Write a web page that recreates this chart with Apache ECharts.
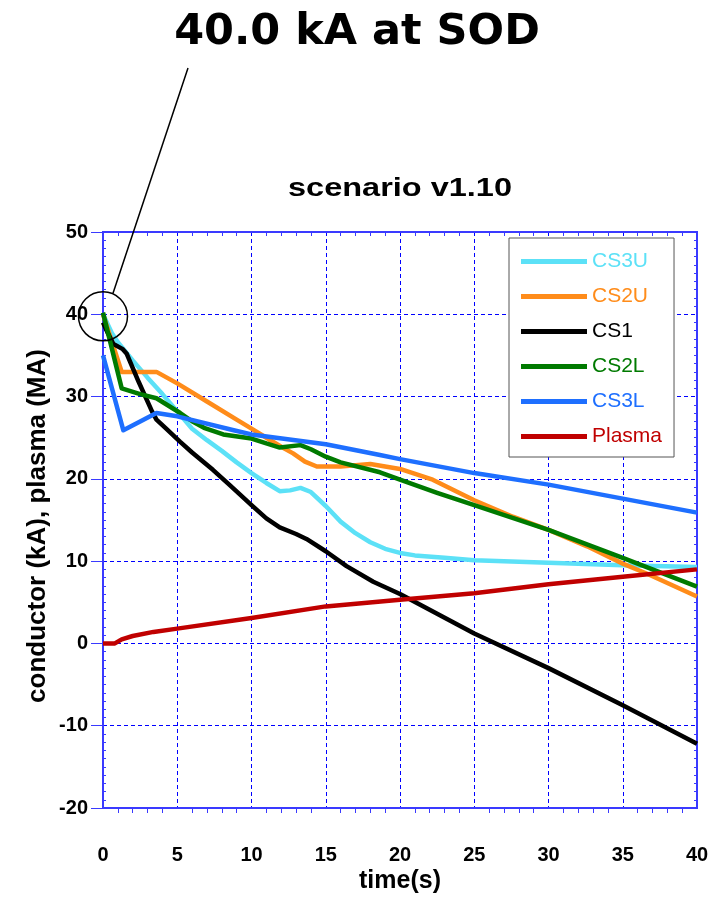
<!DOCTYPE html>
<html><head><meta charset="utf-8">
<script src="https://cdn.jsdelivr.net/npm/echarts@6/dist/echarts.min.js"></script>
<style>html,body{margin:0;padding:0;background:#fff}#c{width:714px;height:923px}</style>
</head><body><div id="c"></div>
<script>
// ---- data (time s, value) ----
const seriesNames = ['CS3U', 'CS2U', 'CS1', 'CS2L', 'CS3L', 'Plasma'];
const seriesColors = ['#5ce1f7', '#ff8c1a', '#000000', '#007a00', '#1e6fff', '#c00000'];
const cs3u = [[0,40],[0.6,37.7],[1,36.6],[2,34.4],[3,32.3],[4,30.3],[5,28.2],[6,26.1],[7,24.7],[8,23.4],[9,22.0],[10,20.7],[11,19.5],[11.9,18.5],[12.6,18.6],[13.3,18.9],[14,18.4],[15,16.7],[16,14.8],[17,13.4],[18,12.3],[19,11.5],[20,11.0],[21,10.7],[23,10.4],[25,10.1],[30,9.8],[35,9.5],[40,9.3]];
const cs2u = [[0,40],[1.26,33.0],[3.6,33.0],[5,31.6],[7,29.4],[9,27.2],[10,26.1],[11,25.0],[12,23.9],[12.8,23.1],[13.6,22.1],[14.4,21.5],[16,21.5],[18,21.8],[20,21.2],[22.2,19.9],[25,17.4],[27.6,15.4],[30,13.8],[32.6,11.8],[35,9.7],[36.6,8.5],[40,5.7]];
const cs1 = [[0,39],[0.3,37.8],[0.7,36.4],[1.3,35.8],[1.6,35.2],[2.4,31.8],[3.3,28.2],[3.6,27.2],[4.2,26.2],[5.2,24.5],[6,23.2],[7.4,21.1],[8.5,19.3],[10,16.8],[11,15.2],[11.9,14.1],[13,13.3],[13.7,12.7],[15,11.2],[16.4,9.4],[18.2,7.5],[20,6.0],[25,1.2],[30,-3.0],[35,-7.5],[40,-12.2]];
const cs2l = [[0,40.2],[1.26,31.0],[2.5,30.3],[3.6,29.8],[5.2,28.0],[6,27.0],[6.8,26.2],[8.1,25.4],[10,24.9],[11,24.3],[11.9,23.8],[13.3,24.1],[14,23.6],[15,22.7],[16,22.0],[18.65,20.8],[20,19.9],[22.5,18.3],[25,16.8],[30,13.8],[35,10.4],[40,6.9]];
const cs3l = [[0,35],[1.37,25.9],[3.6,28.0],[5,27.6],[8.8,25.9],[10,25.4],[15,24.2],[18.65,22.9],[20,22.4],[25,20.7],[30,19.3],[35,17.6],[40,15.9]];
const plasma = [[0,0],[0.8,0],[1.26,0.5],[2,0.9],[3.4,1.4],[5,1.8],[10,3.1],[15,4.5],[20,5.3],[25,6.1],[30,7.2],[35,8.1],[40,9.0]];
const seriesData = [cs3u, cs2u, cs1, cs2l, cs3l, plasma];

const xMin = 0, xMax = 40, xStep = 5;
const yMin = -20, yMax = 50, yStep = 10;

const FONT = '"Liberation Sans", Arial, sans-serif';
const AXIS_BLUE = '#3a3aff';
const GRID_BLUE = '#0000ff';

const chart = echarts.init(document.getElementById('c'));
const grid = {left: 103, right: 17, top: 232, bottom: 115, show: true, borderColor: AXIS_BLUE, borderWidth: 2, backgroundColor: '#fff'};
const dashed = {show: true, lineStyle: {color: GRID_BLUE, width: 1, type: [4, 3]}};
const tickLabel = {color: '#000', fontFamily: FONT, fontWeight: 'bold', fontSize: 20};

const option = {
  animation: false,
  backgroundColor: '#fff',
  grid: grid,
  legend: {
    orient: 'vertical', left: 509, top: 238,
    padding: [13, 12, 10, 12], itemGap: 14,
    itemWidth: 66, itemHeight: 5, icon: 'rect',
    backgroundColor: '#fff', borderColor: '#555', borderWidth: 1,
    textStyle: {fontFamily: FONT, fontSize: 21, lineHeight: 21},
    data: seriesNames.map((n, i) => ({name: n, textStyle: {color: seriesColors[i]}}))
  },
  xAxis: [
    {type: 'value', min: xMin, max: xMax, interval: xStep, position: 'bottom',
     axisLine: {show: true, onZero: false, lineStyle: {color: AXIS_BLUE, width: 2}},
     axisTick: {show: false}, minorTick: {show: true, splitNumber: 5, length: 5, lineStyle: {color: AXIS_BLUE}},
     splitLine: dashed, axisLabel: Object.assign({margin: 37}, tickLabel)},
    {type: 'value', min: xMin, max: xMax, interval: xStep, position: 'top',
     axisLine: {show: true, onZero: false, lineStyle: {color: AXIS_BLUE, width: 2}},
     axisTick: {show: false, inside: true}, minorTick: {show: true, splitNumber: 5, length: 4, lineStyle: {color: AXIS_BLUE}},
     splitLine: {show: false}, axisLabel: {show: false}}
  ],
  yAxis: [
    {type: 'value', min: yMin, max: yMax, interval: yStep, position: 'left',
     axisLine: {show: true, onZero: false, lineStyle: {color: AXIS_BLUE, width: 2}},
     axisTick: {show: true, length: 12, lineStyle: {color: AXIS_BLUE, width: 1}},
     splitLine: dashed, axisLabel: Object.assign({margin: 15}, tickLabel)},
    {type: 'value', min: yMin, max: yMax, interval: yStep, position: 'left',
     axisLine: {show: false}, axisTick: {show: false, inside: true},
     minorTick: {show: true, splitNumber: 10, length: 3, lineStyle: {color: AXIS_BLUE}},
     splitLine: {show: false}, axisLabel: {show: false}},
    {type: 'value', min: yMin, max: yMax, interval: yStep, position: 'right',
     axisLine: {show: true, onZero: false, lineStyle: {color: AXIS_BLUE, width: 2}},
     axisTick: {show: false, inside: true},
     minorTick: {show: true, splitNumber: 10, length: 3, lineStyle: {color: AXIS_BLUE}},
     splitLine: {show: false}, axisLabel: {show: false}}
  ],
  series: seriesNames.map((n, i) => ({
    name: n, type: 'line', data: seriesData[i], xAxisIndex: 0, yAxisIndex: 0,
    showSymbol: false, symbol: 'none', smooth: false,
    color: seriesColors[i],
    lineStyle: {color: seriesColors[i], width: 4.5, cap: 'butt', join: 'round'},
    z: 3
  }))
};
chart.setOption(option);

// annotation anchored at data point (0, 40)
const c = chart.convertToPixel({gridIndex: 0}, [0, 40]);
const cx = c[0], cy = c[1] + 2, r = 24.5;
chart.setOption({
  graphic: [
    {type: 'text', x: 357, y: 33,
     style: {text: '40.0 kA at SOD', fontFamily: '"DejaVu Sans", Verdana, sans-serif', fontWeight: 'bold', fontSize: 43, fill: '#000', textAlign: 'center', textVerticalAlign: 'middle'}, z: 10},
    {type: 'text', x: 400, y: 189, scaleX: 1.25,
     style: {text: 'scenario v1.10', fontFamily: FONT, fontWeight: 'bold', fontSize: 26, fill: '#000', textAlign: 'center', textVerticalAlign: 'middle'}, z: 10},
    {type: 'text', x: 400, y: 881,
     style: {text: 'time(s)', fontFamily: FONT, fontWeight: 'bold', fontSize: 25, fill: '#000', textAlign: 'center', textVerticalAlign: 'middle'}, z: 10},
    {type: 'text', x: 38, y: 526, rotation: Math.PI / 2,
     style: {text: 'conductor (kA), plasma (MA)', fontFamily: FONT, fontWeight: 'bold', fontSize: 26, fill: '#000', textAlign: 'center', textVerticalAlign: 'middle'}, z: 10},
    {type: 'circle', shape: {cx: cx, cy: cy, r: r}, style: {fill: 'none', stroke: '#000', lineWidth: 1.5}, z: 10},
    {type: 'line', shape: {x1: cx + 10, y1: cy - 23, x2: 188, y2: 68}, style: {stroke: '#000', lineWidth: 1.5}, z: 10}
  ]
});
</script></body></html>
